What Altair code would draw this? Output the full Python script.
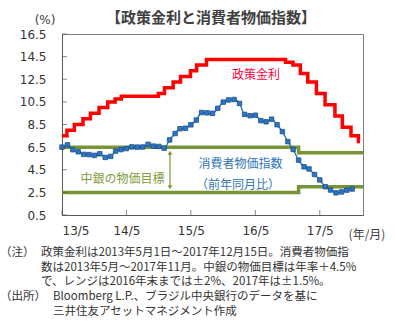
import altair as alt
import pandas as pd

# ---- data ----
policy_dates = ["2013-05-01", "2013-05-29", "2013-07-10", "2013-08-28", "2013-10-09",
                "2013-11-27", "2014-01-15", "2014-02-26", "2014-04-02", "2014-10-29",
                "2014-12-03", "2015-01-21", "2015-03-04", "2015-04-29", "2015-06-03",
                "2015-07-29", "2016-10-19", "2016-11-30", "2017-01-11", "2017-02-22",
                "2017-04-12", "2017-05-31", "2017-07-26", "2017-09-06", "2017-10-25",
                "2017-12-06", "2017-12-15"]
policy_rate = [7.5, 8.0, 8.5, 9.0, 9.5, 10.0, 10.5, 10.75, 11.0, 11.25, 11.75, 12.25,
               12.75, 13.25, 13.75, 14.25, 14.0, 13.75, 13.0, 12.25, 11.25, 10.25,
               9.25, 8.25, 7.5, 7.0, 7.0]

cpi_months = [d.strftime("%Y-%m-%d") for d in pd.date_range("2013-05-01", periods=55, freq="MS")]
cpi_values = [6.50, 6.70, 6.27, 6.09, 5.86, 5.84, 5.77, 5.91,
              5.59, 5.68, 6.15, 6.28, 6.37, 6.52, 6.50, 6.51, 6.75, 6.59, 6.56, 6.41,
              7.14, 7.70, 8.13, 8.17, 8.47, 8.89, 9.56, 9.53, 9.49, 9.93, 10.48, 10.67,
              10.71, 10.36, 9.39, 9.28, 9.32, 8.84, 8.74, 8.97, 8.48, 7.87, 6.99, 6.29,
              5.35, 4.76, 4.57, 4.08, 3.60, 3.00, 2.71, 2.46, 2.54, 2.70, 2.80]

target_dates = ["2013-05-01", "2017-01-01", "2018-01-01"]
target_upper = [6.5, 6.0, 6.0]
target_lower = [2.5, 3.0, 3.0]

arrow_date = ["2015-01-03"]
arrow_top = [6.0]
arrow_bottom = [2.95]

y_ticks = [0.5, 2.5, 4.5, 6.5, 8.5, 10.5, 12.5, 14.5, 16.5]
x_tick_dates = ["2013-05-01", "2014-05-01", "2015-05-01", "2016-05-01", "2017-05-01"]

title_text = "【政策金利と消費者物価指数】"
note_lines = ["政策金利は2013年5月1日～2017年12月15日。消費者物価指",
              "数は2013年5月～2017年11月。中銀の物価目標は年率＋4.5%",
              "で、レンジは2016年末までは±2%、2017年は±1.5%。"]
source_lines = ["Bloomberg L.P.、ブラジル中央銀行のデータを基に",
                "三井住友アセットマネジメント作成"]

# ---- frames ----
policy_df = pd.DataFrame({"date": policy_dates, "value": policy_rate})
cpi_df = pd.DataFrame({"date": cpi_months, "value": cpi_values})
target_df = pd.DataFrame({"date": target_dates * 2,
                          "value": target_upper + target_lower,
                          "band": ["upper"] * 3 + ["lower"] * 3})
arrow_df = pd.DataFrame({"date": arrow_date * 2, "value": arrow_top + arrow_bottom,
                         "end": ["top", "bottom"]})
ytick_df = pd.DataFrame({"value": y_ticks})
xtick_df = pd.DataFrame({"date": x_tick_dates})

W, H = 301, 181
JP = "Noto Sans CJK JP"
NUM = "DejaVu Sans"
RED = "#FF0000"
BLUE = "#1F6DB5"
GREEN = "#789536"

xscale = alt.Scale(type="utc",
                   domain=[alt.DateTime(year=2013, month=5, date=1, utc=True),
                           alt.DateTime(year=2018, month=1, date=1, utc=True)])
yscale = alt.Scale(domain=[0.5, 16.5], nice=False, zero=False)

xaxis = alt.Axis(title=None,
                 labelExpr="utcFormat(datum.value, '%y') + '/' + (utcmonth(datum.value) + 1)",
                 values=[alt.DateTime(year=y, month=5, date=1, utc=True) for y in range(2013, 2018)],
                 ticks=False, grid=False, labelPadding=10, labelFontSize=12,
                 labelOverlap=False, labelFont=NUM, labelColor="#333333",
                 domainColor="#595959")
yaxis = alt.Axis(title=None, values=y_ticks, format=".1f", ticks=False, grid=False,
                 labelPadding=16, labelFontSize=12, labelFont=NUM, labelOverlap=False,
                 labelColor="#333333", domainColor="#595959")

X = alt.X("date:T", scale=xscale, axis=xaxis)
Y = alt.Y("value:Q", scale=yscale, axis=yaxis)

target = alt.Chart(target_df).mark_line(interpolate="step-after", strokeWidth=3.5,
                                        color=GREEN).encode(
    x=X, y=Y, detail="band:N")

policy = alt.Chart(policy_df).mark_line(interpolate="step-after", strokeWidth=3.5,
                                        color=RED).encode(x=X, y=Y)

cpi_line = alt.Chart(cpi_df).mark_line(interpolate="monotone", strokeWidth=1.3,
                                       color=BLUE).encode(x=X, y=Y)
cpi_pts = alt.Chart(cpi_df).mark_point(shape="square", filled=True, size=20,
                                       color="#2E75C6", stroke="#1A4F8A",
                                       strokeWidth=0.8, opacity=1).encode(x=X, y=Y)

arrow_rule = alt.Chart(arrow_df).mark_line(color=GREEN, strokeWidth=1.2).encode(
    x=X, y=Y)
arrow_heads = alt.Chart(arrow_df).mark_point(filled=True, size=22, color=GREEN,
                                             opacity=1).encode(
    x=X, y=Y,
    shape=alt.Shape("end:N", scale=alt.Scale(domain=["top", "bottom"],
                                             range=["triangle-up", "triangle-down"]),
                    legend=None))

ytick_marks = alt.Chart(ytick_df).mark_tick(orient="horizontal", size=5, thickness=1,
                                            color="#595959").encode(
    y=Y, x=alt.value(2.5))
xtick_marks = alt.Chart(xtick_df).mark_tick(orient="vertical", size=5, thickness=1,
                                            color="#595959").encode(
    x=X, y=alt.value(H - 2.5))


def label(text, x, y, color="#333333", size=12, align="center", weight="normal", font=JP):
    return alt.Chart(pd.DataFrame({"t": [text]})).mark_text(
        align=align, baseline="middle", fontSize=size, font=font, color=color,
        fontWeight=weight).encode(text="t:N", x=alt.value(x), y=alt.value(y))


texts = [
    label(title_text, 149, -16, color="#404040", size=15, weight="bold"),
    label("(%)", -17, -14, color="#404040", size=12, font=NUM),
    label("(年/月)", 305, 201, color="#404040", size=12),
    label("政策金利", 194, 41, color="#FF0040"),
    label("消費者物価指数", 178.5, 129.5, color="#2E75B6"),
    label("（前年同月比）", 176, 150.5, color="#2E75B6"),
    label("中銀の物価目標", 60.5, 145, color="#7F9C3C"),
    label("（注）", -62, 219, align="left", size=11.5),
    label("（出所）", -62, 263, align="left", size=11.5),
]
for i, line in enumerate(note_lines):
    texts.append(label(line, -21, 219 + 14.7 * i, align="left", size=11.5))
for i, line in enumerate(source_lines):
    texts.append(label(line, -9, 263 + 14.7 * i, align="left", size=11.5))

chart = alt.layer(target, policy, cpi_line, cpi_pts, arrow_rule, arrow_heads,
                  ytick_marks, xtick_marks, *texts).properties(
    width=W, height=H,
    autosize=alt.AutoSizeParams(type="none"),
    padding={"left": 62, "top": 34, "right": 32, "bottom": 108},
    background="white",
).configure_view(stroke="#7F7F7F", strokeWidth=1)

chart.save("out.html", embed_options={"renderer": "svg", "actions": False})
